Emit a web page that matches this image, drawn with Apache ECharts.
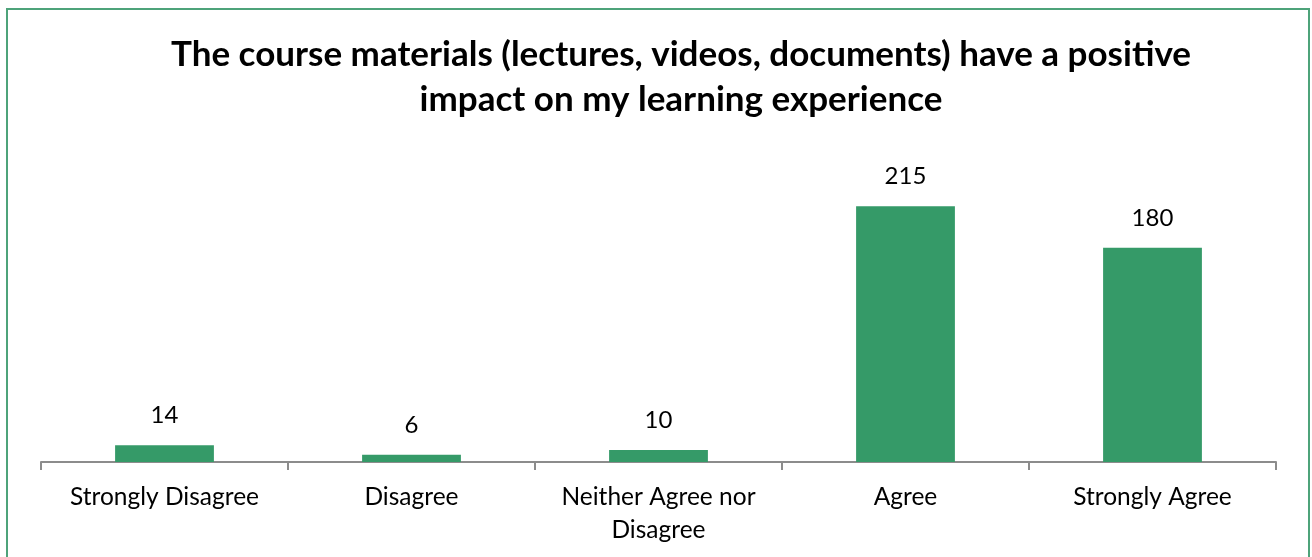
<!DOCTYPE html>
<html>
<head>
<meta charset="utf-8">
<script src="https://cdn.jsdelivr.net/npm/echarts@6/dist/echarts.min.js"></script>
<style>
  html, body { margin: 0; padding: 0; background: #fff; }
  #chart { width: 1312px; height: 557px; }
</style>
</head>
<body>
<div id="chart"></div>
<script>
const categories = ['Strongly Disagree', 'Disagree', 'Neither Agree nor\nDisagree', 'Agree', 'Strongly Agree']
const counts = [14, 6, 10, 215, 180]
const titleText = 'The course materials (lectures, videos, documents) have a positive\nimpact on my learning experience'

const chart = echarts.init(document.getElementById('chart'))

const option = {
  backgroundColor: '#fff',
  animation: false,
  title: {
    text: titleText,
    left: 676,
    top: 27,
    textAlign: 'center',
    textStyle: {
      fontFamily: 'Lato',
      fontWeight: 'bold',
      fontSize: 35,
      lineHeight: 45,
      color: '#000'
    }
  },
  graphic: [
    {
      type: 'rect',
      shape: { x: 7, y: 9, width: 1302, height: 570 },
      style: { fill: 'none', stroke: '#4ea37a', lineWidth: 2 },
      silent: true
    }
  ],
  grid: {
    left: 41,
    right: 36,
    top: 105,
    bottom: 95
  },
  xAxis: {
    type: 'category',
    data: categories,
    axisLine: { lineStyle: { color: '#8c8c8c', width: 2 } },
    axisTick: { show: true, length: 8, lineStyle: { color: '#8c8c8c', width: 2 } },
    axisLabel: {
      interval: 0,
      color: '#000',
      fontFamily: 'Lato',
      fontSize: 24.5,
      lineHeight: 33,
      margin: 19
    }
  },
  yAxis: {
    type: 'value',
    min: 0,
    max: 300,
    show: false,
    splitLine: { show: false }
  },
  series: [
    {
      type: 'bar',
      data: counts,
      barWidth: '40%',
      itemStyle: { color: '#359a68' },
      label: {
        show: true,
        position: 'top',
        distance: 18,
        color: '#000',
        fontFamily: 'Lato',
        fontSize: 24
      }
    }
  ]
}

chart.setOption(option)
</script>
</body>
</html>
